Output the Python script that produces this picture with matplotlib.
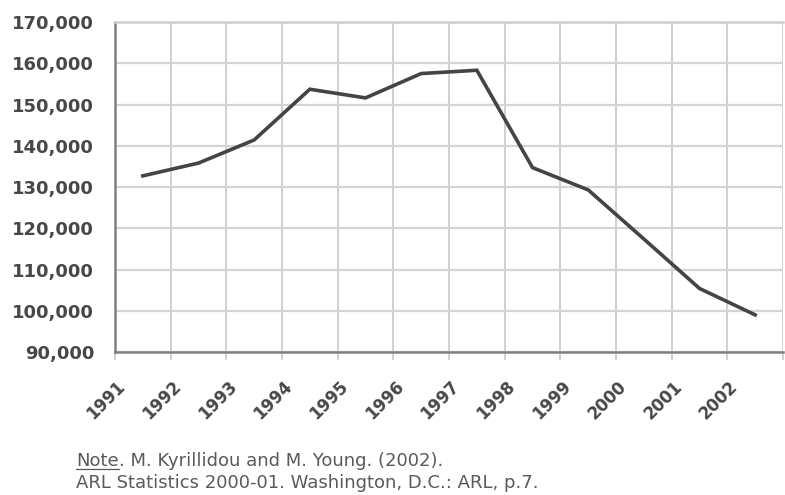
import numpy as np
import matplotlib.pyplot as plt
from matplotlib.ticker import FuncFormatter, MultipleLocator
from matplotlib.transforms import ScaledTranslation

# ARL member libraries
years = ['1991', '1992', '1993', '1994', '1995', '1996',
         '1997', '1998', '1999', '2000', '2001', '2002']
values = [132700, 135800, 141400, 153700, 151600, 157500,
          158300, 134700, 129300, 117400, 105400, 99000]

plt.rcParams['font.family'] = ['DejaVu Sans']

fig = plt.figure(figsize=(7.85, 4.95), dpi=100)
ax = fig.add_axes([115 / 785, 1 - 352 / 495, 668 / 785, 330 / 495])

x = np.arange(len(years))
ax.plot(x, values, color='#444444', linewidth=2.6, solid_joinstyle='miter',
        zorder=3)

ax.set_xlim(-0.5, len(years) - 0.5)
ax.set_ylim(90000, 170000)
ax.yaxis.set_major_locator(MultipleLocator(10000))
ax.yaxis.set_major_formatter(FuncFormatter(lambda v, p: f'{int(v):,}'))

# category boundaries carry the grid, centres carry the labels
ax.set_xticks(x)
ax.set_xticks(np.arange(-0.5, len(years)), minor=True)
ax.set_xticklabels(years)
ax.tick_params(axis='x', which='major', length=0)
ax.tick_params(axis='x', which='minor', length=6, color='#c8c8c8', width=1.2)
ax.tick_params(axis='y', length=0, pad=15)
ax.grid(True, which='minor', axis='x', color='#c8c8c8', linewidth=1.2)
ax.grid(True, which='major', axis='y', color='#d4d4d4', linewidth=1.6)
ax.set_axisbelow(True)

for lbl in ax.get_yticklabels():
    lbl.set_fontsize(13)
    lbl.set_fontweight('bold')
    lbl.set_color('#474747')

off = ScaledTranslation(-20 / 100, -27 / 100, fig.dpi_scale_trans)
for lbl in ax.get_xticklabels():
    lbl.set_rotation(45)
    lbl.set_rotation_mode('anchor')
    lbl.set_ha('right')
    lbl.set_va('center')
    lbl.set_fontsize(12)
    lbl.set_fontweight('bold')
    lbl.set_color('#474747')
    lbl.set_transform(lbl.get_transform() + off)

for side in ['left', 'bottom']:
    ax.spines[side].set_color('#808080')
    ax.spines[side].set_linewidth(1.8)
ax.spines['top'].set_color('#cfcfcf')
ax.spines['top'].set_linewidth(1.8)
ax.spines['right'].set_visible(False)

# source note, "Note" underlined
note_color = '#5a5a5a'
note_size = 13
t = fig.text(76 / 785, 1 - 466 / 495, 'Note', fontsize=note_size,
             color=note_color, ha='left', va='baseline')
fig.canvas.draw()
bb = t.get_window_extent()
x0, x1 = bb.x0 / fig.bbox.width, bb.x1 / fig.bbox.width
yu = 1 - 469 / 495
fig.add_artist(plt.Line2D([x0, x1], [yu, yu], color=note_color, linewidth=0.9))
fig.text(x1, 1 - 466 / 495, '. M. Kyrillidou and M. Young. (2002).',
         fontsize=note_size, color=note_color, ha='left', va='baseline')
fig.text(76 / 785, 1 - 488 / 495,
         'ARL Statistics 2000-01. Washington, D.C.: ARL, p.7.',
         fontsize=note_size, color=note_color, ha='left', va='baseline')

fig.savefig('out.png', dpi=100)
